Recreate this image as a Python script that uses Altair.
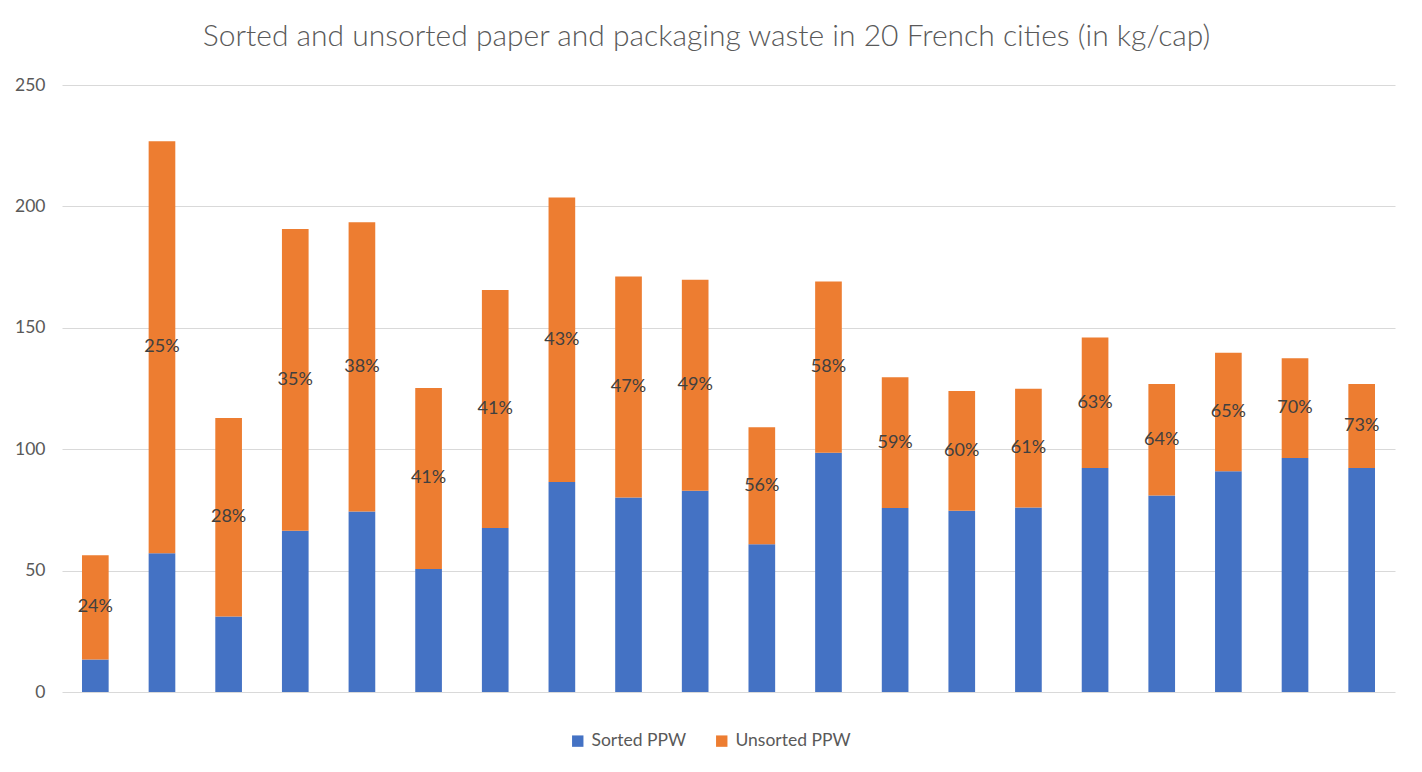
import altair as alt
import pandas as pd

cities = [f"City {i}" for i in range(1, 21)]
sorted_ppw = [13.4, 57.1, 31.1, 66.4, 74.3, 50.7, 67.5, 86.5, 80.1, 82.9,
              60.9, 98.5, 75.8, 74.6, 76.0, 92.3, 80.9, 90.9, 96.4, 92.3]
total_ppw = [56.3, 226.8, 112.9, 190.7, 193.5, 125.2, 165.6, 203.7, 171.1, 169.8,
             109.0, 169.1, 129.6, 124.0, 124.9, 146.0, 126.9, 139.7, 137.5, 126.9]
pct_labels = ["24%", "25%", "28%", "35%", "38%", "41%", "41%", "43%", "47%", "49%",
              "56%", "58%", "59%", "60%", "61%", "63%", "64%", "65%", "70%", "73%"]
series = ["Sorted PPW", "Unsorted PPW"]
colors = ["#4472C4", "#ED7D31"]

rows = []
for c, s, t in zip(cities, sorted_ppw, total_ppw):
    rows.append({"city": c, "series": series[0], "value": s, "ord": 0})
    rows.append({"city": c, "series": series[1], "value": round(t - s, 2), "ord": 1})
df = pd.DataFrame(rows)

lab = pd.DataFrame({
    "city": cities,
    "mid": [(s + t) / 2 for s, t in zip(sorted_ppw, total_ppw)],
    "label": pct_labels,
})

FONT = "Lato"
xenc = alt.X("city:N", sort=cities,
             scale=alt.Scale(paddingInner=0.6, paddingOuter=0.3),
             axis=None)

bars = alt.Chart(df).mark_bar().encode(
    x=xenc,
    y=alt.Y("value:Q", stack="zero",
            scale=alt.Scale(domain=[0, 250], nice=False),
            axis=alt.Axis(values=[0, 50, 100, 150, 200, 250], title=None,
                          domain=False, ticks=False, grid=True,
                          gridColor="#D9D9D9", gridWidth=1,
                          labelColor="#595959", labelFontSize=17.5,
                          labelFont=FONT, labelPadding=17)),
    color=alt.Color("series:N", sort=series,
                    scale=alt.Scale(domain=series, range=colors),
                    legend=alt.Legend(title=None, orient="none",
                                      direction="horizontal",
                                      legendX=507, legendY=647,
                                      symbolType="square", symbolSize=130,
                                      symbolStrokeWidth=0,
                                      labelFont=FONT, labelFontSize=17.5,
                                      labelColor="#595959",
                                      columnPadding=26, labelOffset=5)),
    order=alt.Order("ord:Q"),
)

texts = alt.Chart(lab).mark_text(
    font=FONT, fontSize=18, color="#404040", baseline="middle", align="center"
).encode(
    x=xenc,
    y=alt.Y("mid:Q"),
    text="label:N",
)

chart = alt.layer(bars, texts).properties(
    width=1333,
    height=607,
    title=alt.Title("Sorted and unsorted paper and packaging waste in 20 French cities (in kg/cap)",
                    font=FONT, fontSize=30, fontWeight=300, color="#595959",
                    anchor="middle", dx=-22, offset=24),
    autosize=alt.AutoSizeParams(type="none"),
    padding={"left": 54, "top": 77, "right": 19, "bottom": 72},
).configure(background="white").configure_view(stroke=None)

chart.save("out.html", embed_options={"renderer": "svg", "actions": False})
